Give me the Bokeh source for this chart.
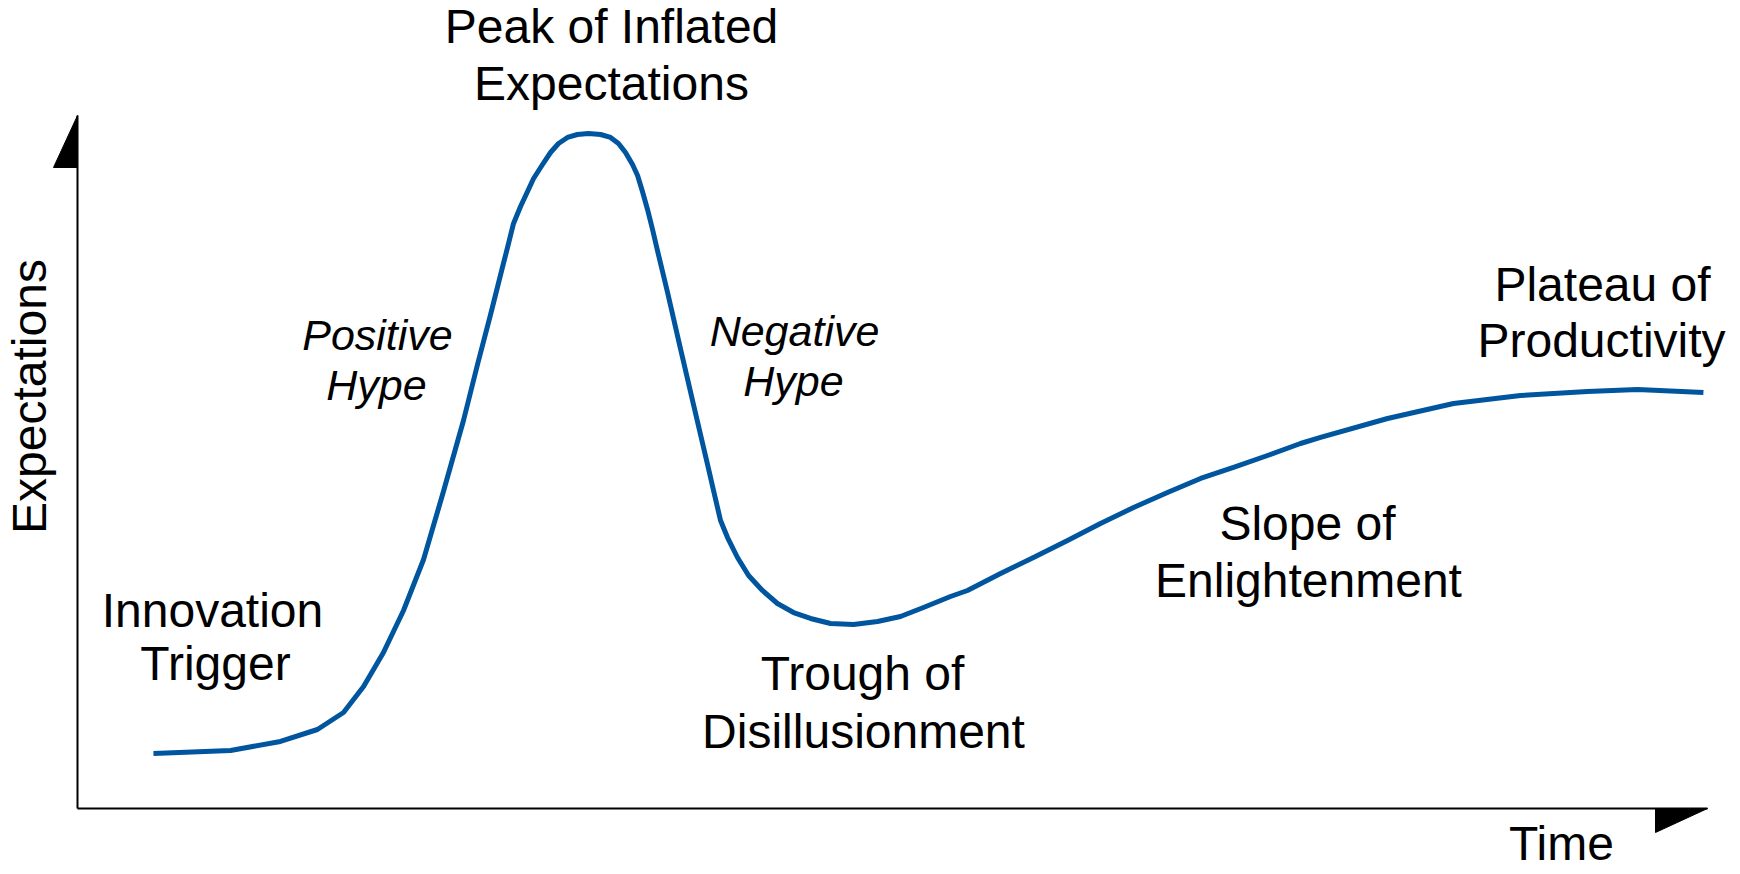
import math
from bokeh.plotting import figure
from bokeh.models import Range1d, ColumnDataSource
from bokeh.embed import file_html
from bokeh.resources import INLINE
from bokeh.core.properties import value

# ---- data: hype cycle curve (time 0-100, expectations 0-100) ----
time = [4.66, 9.39, 12.45, 14.72, 16.32, 17.55, 18.77, 20.00, 21.23, 22.45, 23.68, 24.54,
        25.34, 26.07, 26.38, 26.75, 27.18, 27.61, 27.98, 28.53, 29.02, 29.51, 30.06, 30.67,
        31.35, 32.09, 32.70, 33.19, 33.62, 34.05, 34.36, 34.66, 34.97, 35.28, 35.58, 35.95,
        36.20, 36.99, 37.79, 38.71, 39.02, 39.45, 39.88, 40.49, 41.17, 42.02, 42.94, 43.93,
        44.97, 46.20, 47.61, 49.08, 50.49, 51.90, 53.56, 54.60, 56.63, 58.65, 60.74, 62.76,
        64.79, 66.87, 68.90, 70.92, 73.01, 75.03, 76.26, 80.37, 84.42, 88.53, 92.64, 95.71,
        99.75]
expectations = [7.94, 8.37, 9.67, 11.40, 13.85, 17.60, 22.51, 28.57, 35.93, 45.74, 55.99, 64.07,
                71.28, 78.07, 80.95, 84.42, 86.87, 89.03, 90.91, 92.93, 94.66, 95.96, 96.83, 97.26,
                97.40, 97.26, 96.83, 95.96, 94.66, 92.93, 91.34, 89.03, 86.44, 83.55, 80.52, 76.91,
                74.46, 66.38, 58.30, 49.06, 45.89, 41.56, 39.10, 36.22, 33.62, 31.46, 29.58, 28.28,
                27.42, 26.70, 26.55, 26.98, 27.71, 29.00, 30.59, 31.46, 33.91, 36.22, 38.67, 41.13,
                43.43, 45.60, 47.62, 49.21, 50.94, 52.67, 53.54, 56.28, 58.44, 59.60, 60.17, 60.46,
                60.03]

x_axis_label = "Time"
y_axis_label = "Expectations"
phase_lines = ["Peak of Inflated", "Expectations", "Innovation", "Trigger",
               "Trough of", "Disillusionment", "Slope of", "Enlightenment",
               "Plateau of", "Productivity"]
hype_lines = ["Positive", "Hype", "Negative", "Hype"]

# ---- layout helpers (reference pixel -> data units) ----
X0, X1 = 77.0, 1707.0   # axis origin / x-arrow tip in px
Y0, Y1 = 808.0, 115.0   # axis origin / y-arrow tip in px
def px2t(x):
    return (x - X0) / (X1 - X0) * 100.0
def px2e(y):
    return (Y0 - y) / (Y0 - Y1) * 100.0

W, H = 1740, 874
p = figure(width=W, height=H, output_backend="svg", toolbar_location=None,
           x_axis_type=None, y_axis_type=None, min_border=0,
           x_range=Range1d(px2t(0), px2t(W)),
           y_range=Range1d(px2e(H), px2e(0)))
p.grid.visible = False
p.outline_line_color = None
p.background_fill_color = "white"
p.border_fill_color = "white"

# axes
p.line([0, 0], [0, 100], line_color="black", line_width=2)
p.line([0, 100], [0, 0], line_color="black", line_width=2)
# arrow heads (half triangles)
p.patch([0, 0, px2t(X0 - 24)], [100, px2e(Y1 + 52), px2e(Y1 + 52)],
        fill_color="black", line_color="black", line_width=1)
p.patch([px2t(X1 - 52), 100, px2t(X1 - 52)], [0, 0, px2e(Y0 + 24)],
        fill_color="black", line_color="black", line_width=1)

# curve
p.line(time, expectations, line_color="#00559F", line_width=5,
       line_join="round", line_cap="butt")

# labels (baseline positions in reference px, corrected for renderer offset)
font = value("Liberation Sans")
BIG, SMALL = 48, 43
def corr(size):
    return 0.4 * size

phase_pos = [(611, 45), (611, 102), (212, 629), (215, 682), (862, 692), (863, 750),
             (1307, 542), (1308, 599), (1602, 303), (1601, 359)]
src = ColumnDataSource(dict(x=[px2t(a) for a, b in phase_pos],
                            y=[px2e(b - corr(BIG)) for a, b in phase_pos], t=phase_lines))
p.text("x", "y", text="t", source=src, text_font=font, text_font_size=f"{BIG}px",
       text_align="center", text_baseline="alphabetic", text_color="black")

hype_pos = [(377, 352), (376, 402), (794, 348), (793, 398)]
src2 = ColumnDataSource(dict(x=[px2t(a) for a, b in hype_pos],
                             y=[px2e(b - corr(SMALL)) for a, b in hype_pos], t=hype_lines))
p.text("x", "y", text="t", source=src2, text_font=font, text_font_size=f"{SMALL}px",
       text_font_style="italic", text_align="center", text_baseline="alphabetic",
       text_color="black")

p.text([px2t(1561)], [px2e(862 - corr(BIG))], text=[x_axis_label], text_font=font,
       text_font_size=f"{BIG}px", text_align="center", text_baseline="alphabetic",
       text_color="black")
p.text([px2t(48 - corr(BIG))], [px2e(396)], text=[y_axis_label], text_font=font,
       text_font_size=f"{BIG}px", text_align="center", text_baseline="alphabetic",
       angle=math.pi / 2, text_color="black")

open("out.html", "w").write(file_html(p, INLINE))
